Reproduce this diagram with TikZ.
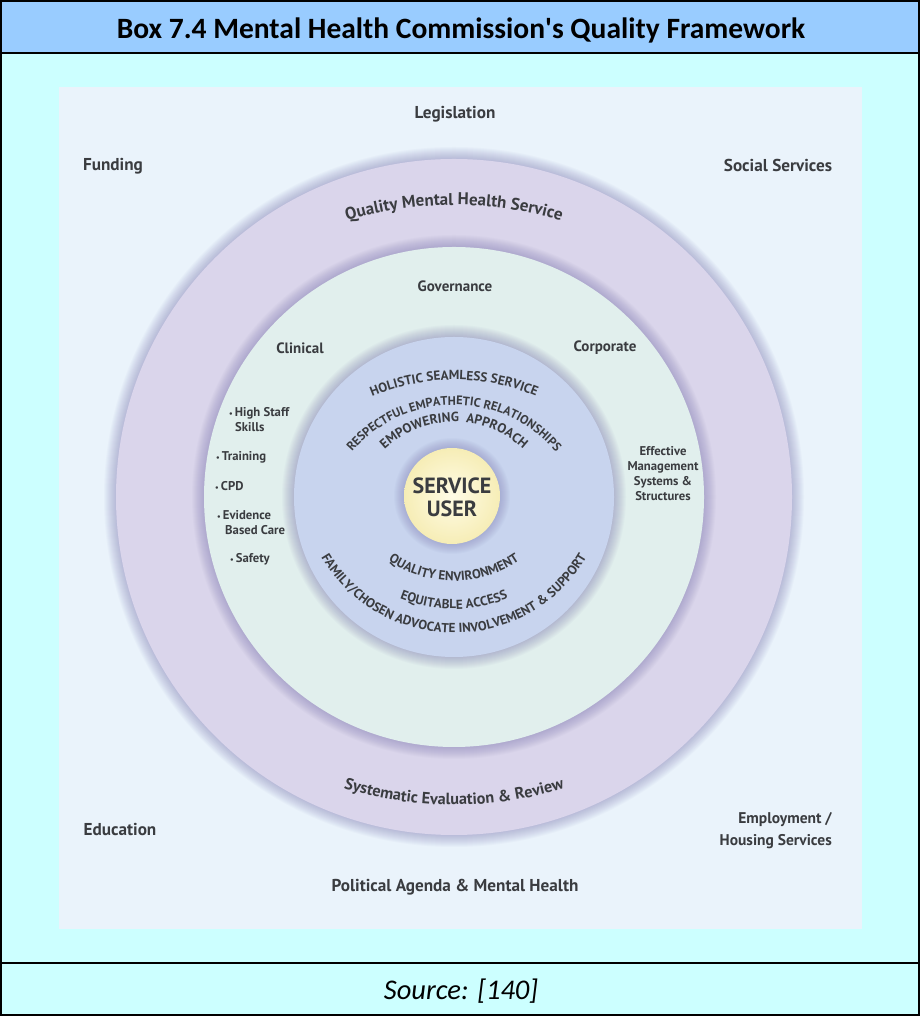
\documentclass[tikz,border=0pt]{standalone}
\usepackage{fontspec}
\setmainfont{Carlito}
\newfontfamily\labf{PT Sans}
\usetikzlibrary{decorations.text,calc}

\definecolor{titlebg}{HTML}{99CCFF}
\definecolor{boxbg}{HTML}{CCFFFF}
\definecolor{imgbg}{HTML}{EAF3FB}
\definecolor{ringpurple}{HTML}{DAD5EB}
\definecolor{ringgreen}{HTML}{E1EFED}
\definecolor{ringblue}{HTML}{C8D4EE}
\definecolor{halo}{HTML}{6E68A8}
\definecolor{labtext}{HTML}{3A3C40}
\definecolor{suin}{HTML}{FFFCE6}
\definecolor{suout}{HTML}{F6EDB6}

\tikzset{
  lab/.style={text=labtext, font=\labf\bfseries\fontsize{17.2}{21}\selectfont, inner sep=0pt},
  midlab/.style={text=labtext, font=\labf\bfseries\fontsize{15}{17}\selectfont, inner sep=0pt},
  small/.style={text=labtext, font=\labf\bfseries\fontsize{12.7}{15}\selectfont, inner sep=0pt, anchor=west},
  arctext/.style={decorate, decoration={text along path, text align=center, text color=labtext, text={#1}}},
}
\newcommand{\arcf}[1]{\labf\bfseries\fontsize{#1}{#1}\selectfont}
\newcommand{\bul}{{\fontsize{8}{8}\selectfont\textbullet}\,}
\newcommand{\haloring}[2]{\foreach \i in {1,...,12} {\fill[halo, opacity=0.035] #1 circle ({#2+\i});}}

\begin{document}
\begin{tikzpicture}[x=1pt,y=1pt]
\useasboundingbox (0,0) rectangle (920,1016);
% frame
\fill[boxbg] (0,0) rectangle (920,1016);
\fill[titlebg] (0,963) rectangle (920,1016);
\draw[line width=2pt] (1,1) rectangle (919,1015);
\draw[line width=2pt] (0,963) -- (920,963);
\draw[line width=2pt] (0,53) -- (920,53);
\node (title) at (461,986) {\fontsize{29.5}{34}\selectfont\bfseries Box 7.4 Mental Health Commission\textquotesingle s Quality Framework};
\node (src) at (461,25) {\fontsize{28.5}{32}\selectfont\itshape Source: [140]};

% image
\fill[imgbg] (59,87) rectangle (862,929);
\coordinate (C) at (454,519);
\haloring{(C)}{338}
\fill[ringpurple] (C) circle (338);
\haloring{(C)}{250}
\fill[ringgreen] (C) circle (250);
\haloring{(C)}{160}
\fill[ringblue] (C) circle (160);
\haloring{(452,520)}{46}
\shade[inner color=suin, outer color=suout] (452,520) circle (48);

% outer labels
\node[lab] (leg) at (455,902) {Legislation};
\node[lab] (fund) at (113,850) {Funding};
\node[lab] (soc) at (778,851) {Social Services};
\node[lab] (edu) at (120,186) {Education};
\node[lab, font=\labf\bfseries\fontsize{15.5}{22}\selectfont, align=right, anchor=east] (emp) at (832,185) {Employment /\\Housing Services};
\node[lab] (pol) at (455,129) {Political Agenda \& Mental Health};

% ring labels
\path[arctext={|\arcf{17}|Quality Mental Health Service}] ($(454,430)+(120:381)$) arc[start angle=120, end angle=60, radius=381];
\path[arctext={|\arcf{16.2}|Systematic Evaluation {\&} Review}] ($(454,582)+(240:371)$) arc[start angle=240, end angle=300, radius=371];

\node[midlab] (gov) at (455,730) {Governance};
\node[midlab] (clin) at (300,668) {Clinical};
\node[midlab] (corp) at (605,668) {Corporate};

\node[small] (b1) at (229,603) {\bul High Staff};
\node[small] (b1b) at (235,589) {Skills};
\node[small] (b2) at (216,559) {\bul Training};
\node[small] (b3) at (215,530) {\bul CPD};
\node[small] (b4) at (217,501) {\bul Evidence};
\node[small] (b4b) at (225,486) {Based Care};
\node[small] (b5) at (230,457) {\bul Safety};

\node[small, anchor=center, align=center] (eff) at (663,542) {Effective\\Management\\Systems \&\\Structures};

% inner arcs
\path[arctext={|\arcf{13.2}|HOLISTIC SEAMLESS SERVICE}] ($(454,422)+(150:214)$) arc[start angle=150, end angle=30, radius=214];
\path[arctext={|\arcf{12.4}|RESPECTFUL EMPATHETIC RELATIONSHIPS}] ($(454,477)+(170:134)$) arc[start angle=170, end angle=10, radius=134];
\path[arctext={|\arcf{13.3}|EMPOWERING {\ }APPROACH}] ($(454,492)+(175:102)$) arc[start angle=175, end angle=5, radius=102];
\path[arctext={|\arcf{13.1}|QUALITY ENVIRONMENT}] ($(454,551)+(195:116)$) arc[start angle=195, end angle=345, radius=116];
\path[arctext={|\arcf{13.1}|EQUITABLE ACCESS}] ($(454,552)+(215:145)$) arc[start angle=215, end angle=325, radius=145];
\path[arctext={|\arcf{13.1}|FAMILY/CHOSEN ADVOCATE INVOLVEMENT {\&} SUPPORT}] ($(454,537)+(185:154)$) arc[start angle=185, end angle=355, radius=154];

\node[text=labtext, font=\labf\bfseries\fontsize{22}{23}\selectfont, align=center, inner sep=0pt] (su) at (452,519) {SERVICE\\USER};
\end{tikzpicture}
\end{document}
